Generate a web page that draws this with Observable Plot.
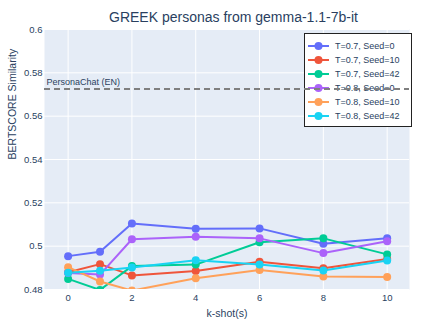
<!DOCTYPE html>
<html><head><meta charset="utf-8">
<script src="https://cdn.jsdelivr.net/npm/d3@7"></script>
<script src="https://cdn.jsdelivr.net/npm/@observablehq/plot@0.6"></script>
<style>
body{margin:0;background:#fff;font-family:"Liberation Sans",Arial,sans-serif;}
#wrap{position:relative;width:439px;height:329px;}
#wrap > svg{position:absolute;left:0;top:0;}
#title{position:absolute;left:14px;width:439px;top:9px;text-align:center;font-size:14px;color:#2a3f5f;}
#legend{position:absolute;left:304px;top:33px;width:106px;height:92px;background:#fff;border:1px solid #222;font-size:9px;color:#2a3f5f;}
.li{position:absolute;left:0;height:14px;display:flex;align-items:center;}
.li svg{margin-left:3px;margin-right:6px;}
#overlay{pointer-events:none;}
</style></head>
<body><div id="wrap"><div id="title">GREEK personas from gemma-1.1-7b-it</div></div>
<script>
const kshots = [0, 1, 2, 4, 6, 8, 10];
const seriesNames = ["T=0.7, Seed=0", "T=0.7, Seed=10", "T=0.7, Seed=42", "T=0.8, Seed=0", "T=0.8, Seed=10", "T=0.8, Seed=42"];
const colors = ["#636efa", "#EF553B", "#00cc96", "#ab63fa", "#FFA15A", "#19d3f3"];
const t07s0  = [0.4954, 0.4974, 0.5105, 0.5080, 0.5082, 0.5011, 0.5036];
const t07s10 = [0.4880, 0.4917, 0.4865, 0.4885, 0.4928, 0.4898, 0.4941];
const t07s42 = [0.4849, 0.4798, 0.4908, 0.4915, 0.5018, 0.5036, 0.4962];
const t08s0  = [0.4876, 0.4869, 0.5032, 0.5043, 0.5036, 0.4968, 0.5023];
const t08s10 = [0.4903, 0.4837, 0.4795, 0.4852, 0.4890, 0.4860, 0.4858];
const t08s42 = [0.4877, 0.4886, 0.4901, 0.4935, 0.4915, 0.4888, 0.4934];
const seriesValues = [t07s0, t07s10, t07s42, t08s0, t08s10, t08s42];
const baselineLabel = "PersonaChat (EN)";
const baselineValue = 0.5725;
const yTicks = [0.48, 0.5, 0.52, 0.54, 0.56, 0.58, 0.6];
const xTicks = [0, 2, 4, 6, 8, 10];

const data = [];
seriesNames.forEach((s, i) => kshots.forEach((k, j) => data.push({series: s, k, v: seriesValues[i][j]})));

const common = {
  width: 439, height: 329,
  marginLeft: 44, marginRight: 30, marginTop: 29, marginBottom: 40,
  color: {domain: seriesNames, range: colors}
};
const font = "Liberation Sans, Arial, sans-serif";

const plot = Plot.plot({
  ...common,
  x: {domain: [-0.74, 10.7]},
  y: {domain: [0.48, 0.6]},
  style: {fontFamily: font, fontSize: "9px", color: "#2a3f5f", background: "transparent"},
  marks: [
    Plot.frame({fill: "#E5ECF6", stroke: null}),
    Plot.gridX(xTicks, {stroke: "#fff", strokeOpacity: 1, strokeWidth: 1}),
    Plot.gridY(yTicks, {stroke: "#fff", strokeOpacity: 1, strokeWidth: 1}),
    Plot.axisX({ticks: xTicks, tickSize: 0, tickPadding: 5, fontSize: 9.5, label: null, tickFormat: d => String(d)}),
    Plot.axisY({ticks: yTicks, tickSize: 0, tickPadding: 2, fontSize: 9.5, label: null, tickFormat: d => String(+d.toFixed(2))}),
    Plot.text(["k-shot(s)"], {frameAnchor: "bottom", text: d => d, dy: 27, fontSize: 10.5, fill: "#2a3f5f"}),
    Plot.text(["BERTSCORE Similarity"], {frameAnchor: "left", text: d => d, dx: -32, rotate: -90, fontSize: 10.5, fill: "#2a3f5f"}),
    Plot.text([baselineLabel], {frameAnchor: "left", y: baselineValue, text: d => d, dx: 2, dy: -7, textAnchor: "start", fill: "#2a3f5f", fontSize: 9}),
    Plot.line(data, {x: "k", y: "v", z: "series", stroke: "series", strokeWidth: 2, clip: true}),
    Plot.dot(data, {x: "k", y: "v", fill: "series", r: 4, clip: true})
  ]
});
const wrap = document.getElementById("wrap");
wrap.prepend(plot);

const leg = document.createElement("div");
leg.id = "legend";
seriesNames.forEach((s, i) => {
  const d = document.createElement("div");
  d.className = "li";
  d.style.top = (5 + i * 14) + "px";
  d.innerHTML = `<svg width="21" height="10"><line x1="0" x2="21" y1="5" y2="5" stroke="${colors[i]}" stroke-width="2"/><circle cx="10.5" cy="5" r="4" fill="${colors[i]}"/></svg><span>${s}</span>`;
  leg.appendChild(d);
});
wrap.appendChild(leg);

const overlay = Plot.plot({
  ...common,
  x: {domain: [-0.74, 10.7], axis: null},
  y: {domain: [0.48, 0.6], axis: null},
  style: {background: "transparent"},
  marks: [Plot.ruleY([baselineValue], {stroke: "#7f7f7f", strokeWidth: 2, strokeDasharray: "6,4"})]
});
overlay.id = "overlay";
wrap.appendChild(overlay);
</script></body></html>
